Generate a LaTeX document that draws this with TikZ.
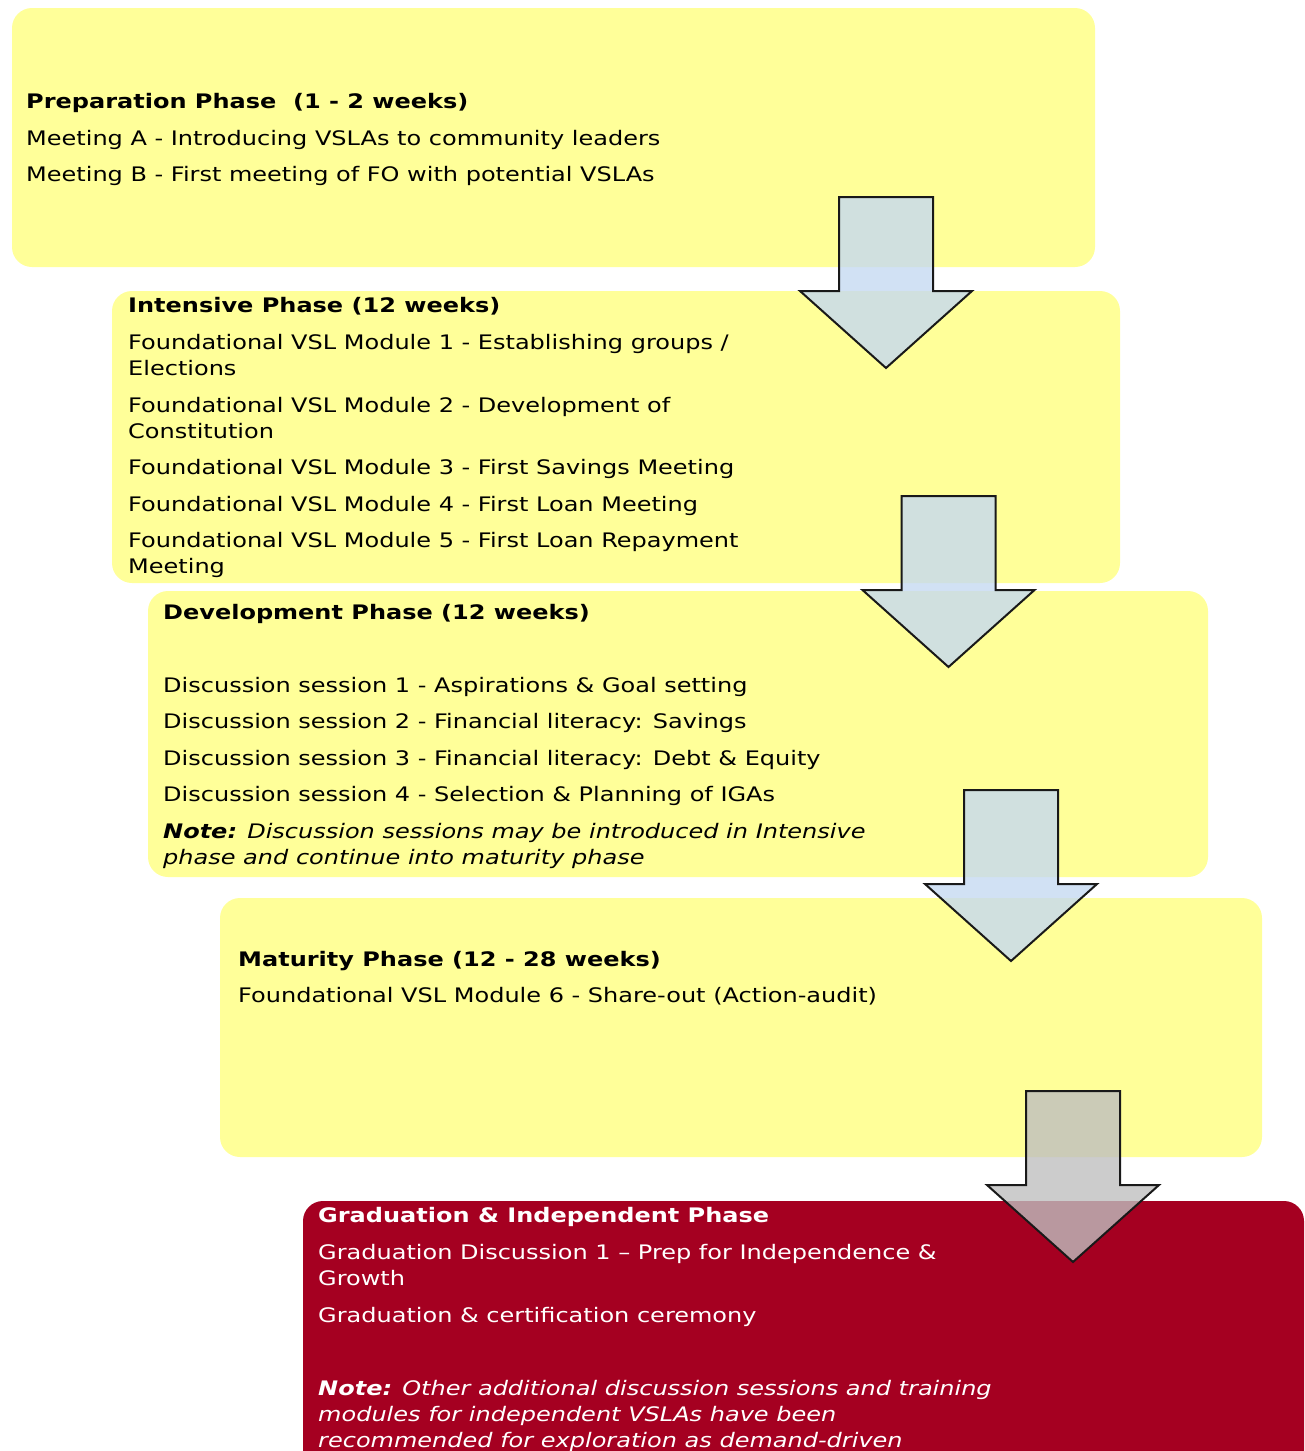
\documentclass[tikz,border=0pt]{standalone}
\usepackage{fontspec}
\setmainfont{DejaVu Sans}[FakeStretch=1.2]
\usetikzlibrary{positioning}
\definecolor{phaseyellow}{HTML}{FFFF99}
\definecolor{phasered}{HTML}{A50021}
\definecolor{arrowblue}{HTML}{C5D9F1}
\definecolor{arrowgray}{HTML}{BFBFBF}

\begin{document}
\begin{tikzpicture}[x=1pt,y=-1pt,font=\fontsize{20}{26}\selectfont,
  phase/.style={rounded corners=20pt,inner sep=0pt,fill=phaseyellow},
  ln/.style={anchor=base west,inner sep=0pt},
  hd/.style={ln,font=\fontsize{20}{26}\selectfont\bfseries},
  downarrow/.style={draw=black!90,line width=2pt,line join=miter,fill opacity=0.8}]
  \useasboundingbox (0,0) rectangle (1304,1451);
  \clip (0,0) rectangle (1304,1451);
  % phase boxes
  \node[phase,minimum width=1083pt,minimum height=259pt] (prep) at (553.5,137.5) {};
  \node[phase,minimum width=1008pt,minimum height=292pt] (inten) at (616,437) {};
  \node[phase,minimum width=1060pt,minimum height=286pt] (devel) at (678,734) {};
  \node[phase,minimum width=1042pt,minimum height=259pt] (matur) at (741,1027.5) {};
  \node[phase,fill=phasered,minimum width=1001pt,minimum height=300pt] (grad) at (803.5,1351) {};
  % preparation
  \node[hd] (prepT) at (26,108) {Preparation Phase\ \ (1 - 2 weeks)};
  \node[ln] (prepA) at (26,145) {Meeting A - Introducing VSLAs to community leaders};
  \node[ln] (prepB) at (26,181) {Meeting B - First meeting of FO with potential VSLAs};
  % intensive
  \node[hd] (intenT) at (128,312) {Intensive Phase (12 weeks)};
  \node[ln] (m1a) at (128,349) {Foundational VSL Module 1 - Establishing groups /};
  \node[ln] (m1b) at (128,375) {Elections};
  \node[ln] (m2a) at (128,412) {Foundational VSL Module 2 - Development of};
  \node[ln] (m2b) at (128,438) {Constitution};
  \node[ln] (m3) at (128,474) {Foundational VSL Module 3 - First Savings Meeting};
  \node[ln] (m4) at (128,511) {Foundational VSL Module 4 - First Loan Meeting};
  \node[ln] (m5a) at (128,547) {Foundational VSL Module 5 - First Loan Repayment};
  \node[ln] (m5b) at (128,573) {Meeting};
  % development
  \node[hd] (develT) at (163,619) {Development Phase (12 weeks)};
  \node[ln] (d1) at (163,692) {Discussion session 1 - Aspirations \& Goal setting};
  \node[ln] (d2) at (163,728) {Discussion session 2 - Financial literacy: Savings};
  \node[ln] (d3) at (163,765) {Discussion session 3 - Financial literacy: Debt \& Equity};
  \node[ln] (d4) at (163,801) {Discussion session 4 - Selection \& Planning of IGAs};
  \node[ln] (dnA) at (163,838) {\textbf{\textit{Note:}} \textit{Discussion sessions may be introduced in Intensive}};
  \node[ln] (dnB) at (163,864) {\textit{phase and continue into maturity phase}};
  % maturity
  \node[hd] (maturT) at (238,966) {Maturity Phase (12 - 28 weeks)};
  \node[ln] (m6) at (238,1002) {Foundational VSL Module 6 - Share-out (Action-audit)};
  % graduation
  \begin{scope}[text=white]
    \node[hd] (gradT) at (318,1222) {Graduation \& Independent Phase};
    \node[ln] (g1a) at (318,1259) {Graduation Discussion 1 – Prep for Independence \&};
    \node[ln] (g1b) at (318,1285) {Growth};
    \node[ln] (g2) at (318,1322) {Graduation \& certification ceremony};
    \node[ln] (gnA) at (318,1395) {\textbf{\textit{Note:}} \textit{Other additional discussion sessions and training}};
    \node[ln] (gnB) at (318,1421) {\textit{modules for independent VSLAs have been}};
    \node[ln] (gnC) at (318,1447) {\textit{recommended for exploration as demand-driven}};
  \end{scope}
  % block arrows
  \foreach \cx/\ty/\col in {886/197/arrowblue,948.5/496/arrowblue,1011/790/arrowblue,1073/1091/arrowgray}{
    \draw[downarrow,fill=\col] (\cx-47,\ty) -- (\cx+47,\ty) -- (\cx+47,\ty+94) -- (\cx+86,\ty+94)
      -- (\cx,\ty+171) -- (\cx-86,\ty+94) -- (\cx-47,\ty+94) -- cycle;
  }
\end{tikzpicture}
\end{document}
